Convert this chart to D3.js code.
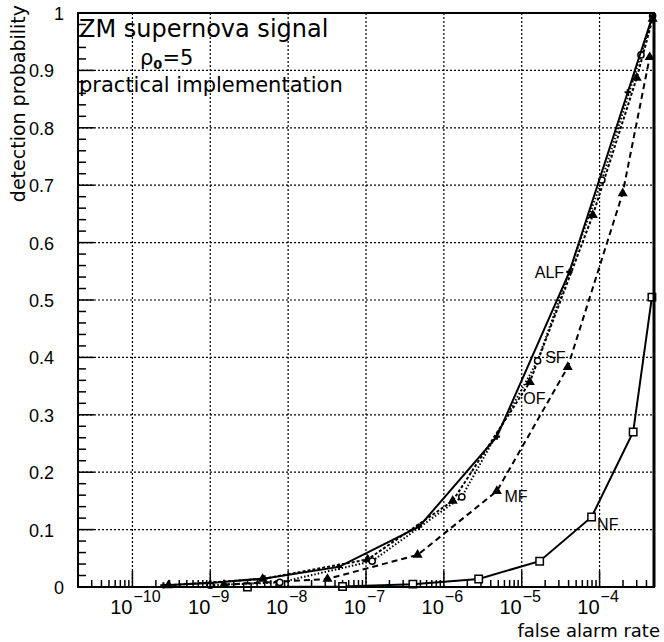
<!DOCTYPE html>
<html>
<head>
<meta charset="UTF-8">
<title>ZM supernova signal</title>
<script src="https://d3js.org/d3.v7.min.js"></script>
<style>
  body { margin: 0; background: #fff; }
  text { font-family: "Liberation Sans", Arial, sans-serif; fill: #000; }
  .wide { font-family: "DejaVu Sans", sans-serif; }
</style>
</head>
<body>
<svg id="viz" width="664" height="642"></svg>
<script>
// data (false alarm rate, detection probability)
var alfX = [2.5e-10, 1e-9, 5e-9, 4.5e-8, 4.8e-7, 4.8e-6, 4.1e-5, 2.3e-4, 4.8e-4];
var alfY = [0.003, 0.007, 0.015, 0.035, 0.105, 0.262, 0.549, 0.862, 0.995];
var sfX = [1e-9, 7.8e-9, 1.2e-7, 1.7e-6, 1.6e-5, 1.07e-4, 3.4e-4, 4.8e-4];
var sfY = [0.003, 0.008, 0.045, 0.157, 0.394, 0.709, 0.927, 0.995];
var ofX = [2.9e-10, 4.7e-9, 1.05e-7, 1.3e-6, 1.27e-5, 8.2e-5, 3e-4, 4.8e-4];
var ofY = [0.003, 0.014, 0.048, 0.15, 0.357, 0.648, 0.887, 0.99];
var mfX = [1.5e-9, 3.2e-8, 4.6e-7, 4.8e-6, 3.9e-5, 1.98e-4, 4.4e-4];
var mfY = [0.004, 0.014, 0.056, 0.167, 0.383, 0.686, 0.923];
var nfX = [3e-9, 5e-8, 4e-7, 2.8e-6, 1.7e-5, 7.9e-5, 2.7e-4, 4.7e-4];
var nfY = [0.0, 0.001, 0.005, 0.014, 0.045, 0.122, 0.27, 0.505];

var xMajor = [-10, -9, -8, -7, -6, -5, -4];
var yTicks = [0, 0.1, 0.2, 0.3, 0.4, 0.5, 0.6, 0.7, 0.8, 0.9, 1];

var svg = d3.select("#viz"),
    margin = {top: 13, right: 10, bottom: 55, left: 78},
    width = 664 - margin.left - margin.right,
    height = 642 - margin.top - margin.bottom,
    g = svg.append("g").attr("transform", "translate(" + margin.left + "," + margin.top + ")");

var x = d3.scaleLog().domain([2e-11, 5e-4]).range([0, width]);
var y = d3.scaleLinear().domain([0, 1]).range([height, 0]);

// grid
g.selectAll(".vgrid").data(xMajor).enter().append("line")
  .attr("x1", function(d) { return x(Math.pow(10, d)); })
  .attr("x2", function(d) { return x(Math.pow(10, d)); })
  .attr("y1", 0).attr("y2", height)
  .attr("stroke", "#000").attr("stroke-width", 1.2).attr("stroke-dasharray", "2,2");
g.selectAll(".hgrid").data(yTicks.slice(1, 10)).enter().append("line")
  .attr("y1", function(d) { return y(d); })
  .attr("y2", function(d) { return y(d); })
  .attr("x1", 0).attr("x2", width)
  .attr("stroke", "#000").attr("stroke-width", 1.2).attr("stroke-dasharray", "2,2");

// x ticks, inside the frame
var minor = [];
for (var e = -11; e <= -4; e++) {
  for (var k = 1; k <= 9; k++) {
    var v = k * Math.pow(10, e);
    if (v >= 2e-11 && v <= 5e-4) minor.push({v: v, major: k === 1});
  }
}
g.selectAll(".xt").data(minor).enter().append("line")
  .attr("x1", function(d) { return x(d.v); })
  .attr("x2", function(d) { return x(d.v); })
  .attr("y1", height)
  .attr("y2", function(d) { return height - (d.major ? 16 : 7); })
  .attr("stroke", "#000").attr("stroke-width", 1.5);

g.selectAll(".xl").data(xMajor).enter().append("text")
  .attr("x", function(d) { return x(Math.pow(10, d)); })
  .attr("y", height + 27)
  .attr("text-anchor", "end")
  .style("font-size", "20px")
  .text("10");
g.selectAll(".xe").data(xMajor).enter().append("text")
  .attr("x", function(d) { return x(Math.pow(10, d)) + 1; })
  .attr("y", height + 15)
  .style("font-size", "16px")
  .text(function(d) { return "\u2212" + (-d); });

// y ticks
var yMinor = d3.range(0, 51).map(function(i) { return i / 50; });
g.selectAll(".yt").data(yMinor).enter().append("line")
  .attr("y1", function(d) { return y(d); })
  .attr("y2", function(d) { return y(d); })
  .attr("x1", 0)
  .attr("x2", function(d, i) { return i % 5 === 0 ? 16 : 8; })
  .attr("stroke", "#000").attr("stroke-width", 1.5);

g.selectAll(".yl").data(yTicks).enter().append("text")
  .attr("x", function(d) { return d === 0 || d === 1 ? -14 : -24; })
  .attr("y", function(d) { return y(d) + 7; })
  .attr("text-anchor", "end")
  .style("font-size", "18px")
  .text(function(d) { return d === 0 || d === 1 ? String(d) : d.toFixed(1); });

// curves
var line = d3.line()
  .x(function(d) { return x(d[0]); })
  .y(function(d) { return y(d[1]); });

function pts(xs, ys) { return xs.map(function(v, i) { return [v, ys[i]]; }); }

var series = [
  {name: "NF", data: pts(nfX, nfY), dash: null, mark: "square"},
  {name: "MF", data: pts(mfX, mfY), dash: "6,4", mark: "tri"},
  {name: "OF", data: pts(ofX, ofY), dash: "3,2", mark: "tri"},
  {name: "SF", data: pts(sfX, sfY), dash: "1.5,2", mark: "circle"},
  {name: "ALF", data: pts(alfX, alfY), dash: null, mark: "star"}
];

series.forEach(function(s) {
  g.append("path").datum(s.data)
    .attr("d", line)
    .attr("fill", "none")
    .attr("stroke", "#000")
    .attr("stroke-width", 2)
    .attr("stroke-dasharray", s.dash);

  var sym;
  if (s.mark === "square") sym = d3.symbol().type(d3.symbolSquare).size(55);
  else if (s.mark === "tri") sym = d3.symbol().type(d3.symbolTriangle).size(24);
  else if (s.mark === "circle") sym = d3.symbol().type(d3.symbolCircle).size(30);
  else sym = d3.symbol().type(d3.symbolCross).size(22);

  g.selectAll(".m" + s.name).data(s.data).enter().append("path")
    .attr("transform", function(d) { return "translate(" + x(d[0]) + "," + y(d[1]) + ")"; })
    .attr("d", sym)
    .attr("fill", s.mark === "tri" || s.mark === "star" ? "#000" : "#fff")
    .attr("stroke", "#000")
    .attr("stroke-width", s.mark === "star" ? 0 : 1.5);
});

// curve labels
var labels = [
  {t: "ALF", v: 3.5e-5, p: 0.539},
  {t: "SF", v: 2.0e-5, p: 0.39},
  {t: "OF", v: 1.05e-5, p: 0.318},
  {t: "MF", v: 6.0e-6, p: 0.148},
  {t: "NF", v: 9.3e-5, p: 0.1}
];
g.selectAll(".lab").data(labels).enter().append("text")
  .attr("x", function(d) { return x(d.v); })
  .attr("y", function(d) { return y(d.p); })
  .attr("text-anchor", function(d) { return d.t === "ALF" ? "end" : "start"; })
  .style("font-size", "16px")
  .text(function(d) { return d.t; });

// frame
g.append("rect").attr("width", width).attr("height", height)
  .attr("fill", "none").attr("stroke", "#000").attr("stroke-width", 2);
g.append("line").attr("x1", width).attr("x2", width).attr("y1", 0).attr("y2", height)
  .attr("stroke", "#000").attr("stroke-width", 3);

// titles
svg.append("text").attr("class", "wide").attr("x", 79).attr("y", 37)
  .style("font-size", "24px").text("ZM supernova signal");
var rho = svg.append("text").attr("class", "wide").attr("x", 140).attr("y", 65).style("font-size", "21px");
rho.append("tspan").text("\u03c1");
rho.append("tspan").attr("dy", 4).style("font-size", "13px").style("font-weight", "bold").text("0");
rho.append("tspan").attr("dy", -4).text("=5");
svg.append("text").attr("class", "wide").attr("x", 79).attr("y", 92)
  .style("font-size", "21px").text("practical implementation");

// axis titles
svg.append("text").attr("class", "wide")
  .attr("transform", "translate(25,5) rotate(-90)")
  .attr("text-anchor", "end")
  .style("font-size", "19px")
  .text("detection probability");
svg.append("text").attr("class", "wide").attr("x", 660).attr("y", 637).attr("text-anchor", "end")
  .style("font-size", "18px").text("false alarm rate");
</script>
</body>
</html>
